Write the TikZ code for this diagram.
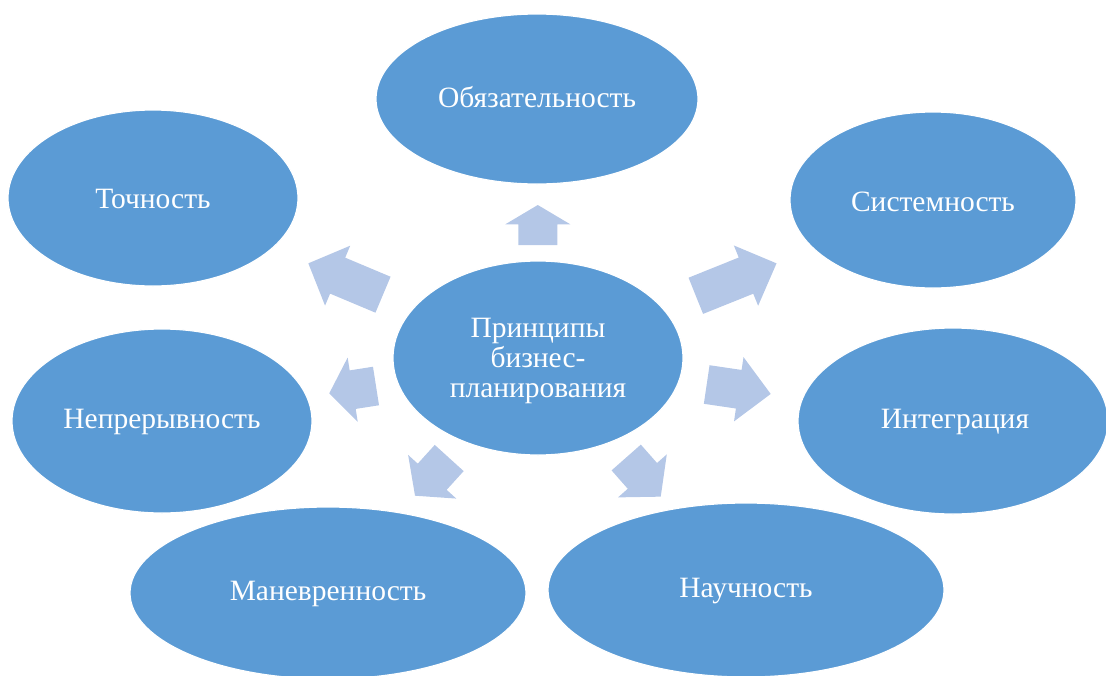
\documentclass[tikz,border=0pt]{standalone}
\usepackage{fontspec}
\setmainfont{Liberation Serif}
\usetikzlibrary{shapes.geometric}
\definecolor{ellblue}{HTML}{5B9BD5}
\definecolor{arrblue}{HTML}{B4C7E7}
\tikzset{
  ell/.style={ellipse, fill=ellblue, draw=white, line width=1.2pt, inner sep=0pt},
  txt/.style={text=white, font=\fontsize{29.5}{30}\selectfont, align=center, inner sep=0pt},
  barr/.style={fill=arrblue}
}
\newcommand\blockarrow[5]{% x, y (shaft end), angle, length, head length
  \begin{scope}[shift={(#1,#2)}, rotate=#3]
    \fill[barr] (0,-19.5) -- ({#4-#5},-19.5) -- ({#4-#5},-32.5) -- (#4,0)
      -- ({#4-#5},32.5) -- ({#4-#5},19.5) -- (0,19.5) -- cycle;
  \end{scope}}
\begin{document}
\begin{tikzpicture}[x=1pt,y=-1pt]
\useasboundingbox (0,0) rectangle (1106,675);
\clip (0,0) rectangle (1106,675);
% arrows
\blockarrow{537.8}{245}{90}{40}{19.3}
\blockarrow{383}{294.7}{157.2}{81}{31.8}
\blockarrow{695.8}{295.8}{21.9}{87}{32.9}
\blockarrow{376}{386}{188.9}{47.3}{23.7}
\blockarrow{706.7}{384.5}{-8.4}{64.7}{32.3}
\blockarrow{449.2}{458}{227.8}{50.9}{25.6}
\blockarrow{626.2}{457.5}{-48.6}{52.2}{27.7}
% ellipses
\node[ell, minimum width=290, minimum height=194] (c) at (538,358) {};
\node[ell, minimum width=322, minimum height=170] (o) at (537,99) {};
\node[ell, minimum width=290, minimum height=176] (t) at (153,198) {};
\node[ell, minimum width=286, minimum height=176] (s) at (933,200) {};
\node[ell, minimum width=300, minimum height=184] (n) at (162,421) {};
\node[ell, minimum width=310, minimum height=186] (i) at (953,421) {};
\node[ell, minimum width=396, minimum height=172] (m) at (328,593) {};
\node[ell, minimum width=396, minimum height=174] (u) at (746,590) {};
% texts
\node[txt] (ct) at (538,361) {Принципы\\бизнес-\\планирования};
\node[txt] (ot) at (537,97) {Обязательность};
\node[txt] (tt) at (153,199) {Точность};
\node[txt] (st) at (933,202) {Системность};
\node[txt] (nt) at (162,422) {Непрерывность};
\node[txt] (it) at (955,422) {Интеграция};
\node[txt] (mt) at (328,594) {Маневренность};
\node[txt] (ut) at (746,591) {Научность};
\end{tikzpicture}
\end{document}
